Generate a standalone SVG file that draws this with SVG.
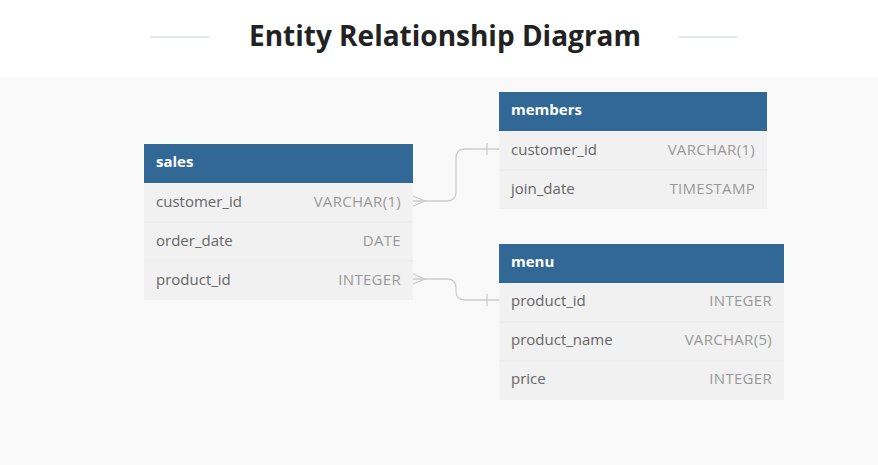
<svg xmlns="http://www.w3.org/2000/svg" width="878" height="465" viewBox="0 0 878 465">
<style>
.hdr{fill:#316896}
.body{fill:#f1f1f1}
.sep{stroke:#e9e9e9;stroke-width:1}
.tname{font-family:"Open Sans","Noto Sans",sans-serif;font-weight:bold;font-size:15px;fill:#ffffff}
.col{font-family:"Open Sans","Noto Sans",sans-serif;font-size:15px;fill:#666666}
.typ{font-family:"Open Sans","Noto Sans",sans-serif;font-size:15px;letter-spacing:0.3px;fill:#999999;text-anchor:end}
.conn{fill:none;stroke:#cccccc;stroke-width:1.3}
</style>
<rect x="0" y="0" width="878" height="465" fill="#ffffff"/>
<rect x="0" y="77" width="878" height="388" fill="#f9f9f9"/>
<g id="title">
<line x1="150" y1="37" x2="209" y2="37" stroke="#c5d0d8" stroke-width="1"/>
<line x1="679" y1="37" x2="737" y2="37" stroke="#c5d0d8" stroke-width="1"/>
<text x="445" y="46" text-anchor="middle" font-family="'Open Sans','Noto Sans',sans-serif" font-weight="bold" font-size="28" fill="#222222">Entity Relationship Diagram</text>
</g>
<g id="connectors">
<path class="conn" d="M413,201 H447 Q456,201 456,192 V158 Q456,149 465,149 H499"/>
<path class="conn" d="M413,196 L425,201 L413,206"/>
<line class="conn" x1="487" y1="143" x2="487" y2="155"/>
<path class="conn" d="M413,279 H447 Q456,279 456,288 V291 Q456,300 465,300 H499"/>
<path class="conn" d="M413,274 L425,279 L413,284"/>
<line class="conn" x1="487" y1="294" x2="487" y2="306"/>
</g>
<g id="sales">
<rect class="body" x="144" y="144" width="269" height="156"/>
<rect class="hdr" x="144" y="144" width="269" height="39"/>
<line class="sep" x1="144" y1="222" x2="413" y2="222"/>
<line class="sep" x1="144" y1="261" x2="413" y2="261"/>
<text class="tname" x="156" y="167">sales</text>
<text class="col" x="156" y="207">customer_id</text>
<text class="typ" x="401" y="207">VARCHAR(1)</text>
<text class="col" x="156" y="246">order_date</text>
<text class="typ" x="401" y="246">DATE</text>
<text class="col" x="156" y="285">product_id</text>
<text class="typ" x="401" y="285">INTEGER</text>
</g>
<g id="members">
<rect class="body" x="499" y="92" width="268" height="117"/>
<rect class="hdr" x="499" y="92" width="268" height="39"/>
<line class="sep" x1="499" y1="170" x2="767" y2="170"/>
<text class="tname" x="511" y="115">members</text>
<text class="col" x="511" y="155">customer_id</text>
<text class="typ" x="755" y="155">VARCHAR(1)</text>
<text class="col" x="511" y="194">join_date</text>
<text class="typ" x="755" y="194">TIMESTAMP</text>
</g>
<g id="menu">
<rect class="body" x="499" y="244" width="285" height="156"/>
<rect class="hdr" x="499" y="244" width="285" height="39"/>
<line class="sep" x1="499" y1="322" x2="784" y2="322"/>
<line class="sep" x1="499" y1="361" x2="784" y2="361"/>
<text class="tname" x="511" y="267">menu</text>
<text class="col" x="511" y="306">product_id</text>
<text class="typ" x="772" y="306">INTEGER</text>
<text class="col" x="511" y="345">product_name</text>
<text class="typ" x="772" y="345">VARCHAR(5)</text>
<text class="col" x="511" y="384">price</text>
<text class="typ" x="772" y="384">INTEGER</text>
</g>
</svg>
